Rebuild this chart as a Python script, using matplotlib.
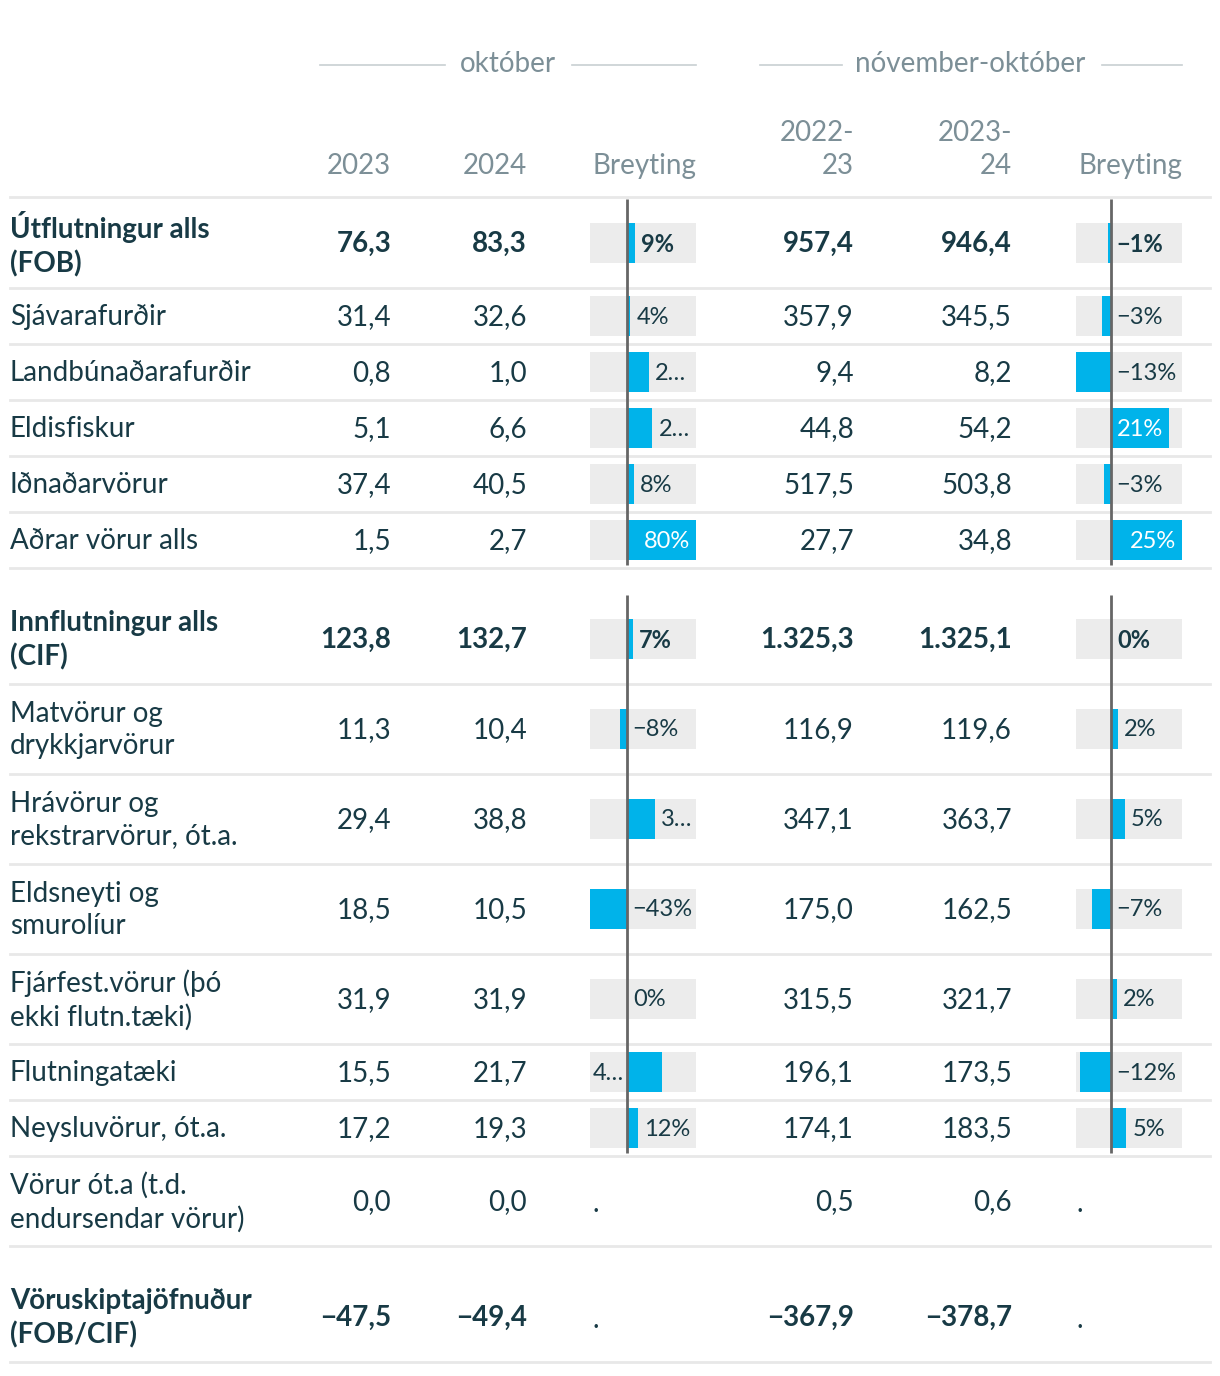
import matplotlib
matplotlib.use("Agg")
import matplotlib.pyplot as plt
import matplotlib.transforms as mtrans

plt.rcParams['font.family'] = ['Lato', 'DejaVu Sans']

# ---- data ----
rows = ["Útflutningur alls\n(FOB)", "Sjávarafurðir", "Landbúnaðarafurðir", "Eldisfiskur",
        "Iðnaðarvörur", "Aðrar vörur alls",
        "Innflutningur alls\n(CIF)", "Matvörur og\ndrykkjarvörur", "Hrávörur og\nrekstrarvörur, ót.a.",
        "Eldsneyti og\nsmurolíur", "Fjárfest.vörur (þó\nekki flutn.tæki)", "Flutningatæki",
        "Neysluvörur, ót.a.", "Vörur ót.a (t.d.\nendursendar vörur)",
        "Vöruskiptajöfnuður\n(FOB/CIF)"]
bold = [True, False, False, False, False, False, True, False, False, False, False, False, False, False, True]
okt23 = [76.3, 31.4, 0.8, 5.1, 37.4, 1.5, 123.8, 11.3, 29.4, 18.5, 31.9, 15.5, 17.2, 0.0, -47.5]
okt24 = [83.3, 32.6, 1.0, 6.6, 40.5, 2.7, 132.7, 10.4, 38.8, 10.5, 31.9, 21.7, 19.3, 0.0, -49.4]
okt_chg = [9.2, 3.8, 25.0, 29.4, 8.3, 80.0, 7.2, -8.0, 32.0, -43.2, 0.0, 40.0, 12.2, None, None]
okt_lbl = ["9%", "4%", "2…", "2…", "8%", "80%", "7%", "−8%", "3…", "−43%", "0%", "4…", "12%", None, None]
no22 = [957.4, 357.9, 9.4, 44.8, 517.5, 27.7, 1325.3, 116.9, 347.1, 175.0, 315.5, 196.1, 174.1, 0.5, -367.9]
no23 = [946.4, 345.5, 8.2, 54.2, 503.8, 34.8, 1325.1, 119.6, 363.7, 162.5, 321.7, 173.5, 183.5, 0.6, -378.7]
no_chg = [-1.1, -3.5, -12.8, 21.0, -2.6, 25.6, 0.0, 2.3, 4.8, -7.1, 2.0, -11.5, 5.4, None, None]
no_lbl = ["−1%", "−3%", "−13%", "21%", "−3%", "25%", "0%", "2%", "5%", "−7%", "2%", "−12%", "5%", None, None]
groups = [[0, 1, 2, 3, 4, 5], [6, 7, 8, 9, 10, 11, 12, 13], [14]]

DARK = "#183a45"
GREY = "#7c8f97"
RULE = "#e8e8e8"
BLUE = "#00b3ea"
CELL = "#ececec"


def fmt(v):
    s = "{:,.1f}".format(abs(v)).replace(",", "X").replace(".", ",").replace("X", ".")
    return ("−" if v < 0 else "") + s


fig = plt.figure(figsize=(12.2, 13.76), dpi=100)
ax = fig.add_axes([0, 0, 1, 1])
ax.set_xlim(0, 1220)
ax.set_ylim(1376, 0)
ax.axis('off')

FS = 20
# header
ax.text(508, 64, "október", ha='center', va='center', color=GREY, fontsize=FS)
ax.plot([320, 445], [65, 65], color="#c8cfd2", lw=1.2)
ax.plot([572, 696], [65, 65], color="#c8cfd2", lw=1.2)
ax.text(970, 64, "nóvember-október", ha='center', va='center', color=GREY, fontsize=FS)
ax.plot([760, 842], [65, 65], color="#c8cfd2", lw=1.2)
ax.plot([1102, 1182], [65, 65], color="#c8cfd2", lw=1.2)
for x, t in [(391, "2023"), (527, "2024"), (696, "Breyting"), (854, "2022-\n23"),
             (1012, "2023-\n24"), (1182, "Breyting")]:
    ax.text(x, 179, t, ha='right', va='bottom', color=GREY, fontsize=FS, linespacing=1.32)
ax.plot([10, 1210], [197, 197], color=RULE, lw=2)

# row geometry
heights = [90 if "\n" in r else 56 for r in rows]
tops = []
y = 198
for gi, g in enumerate(groups):
    if gi > 0:
        y += 26
    for i in g:
        tops.append(y)
        y += heights[i]
centers = [t + h / 2 for t, h in zip(tops, heights)]

for i, r in enumerate(rows):
    w = 'bold' if bold[i] else 'normal'
    c = centers[i] + 1
    ax.text(10, c, r, ha='left', va='center', color=DARK, fontsize=FS, fontweight=w, linespacing=1.32)
    for x, v in [(391, okt23[i]), (527, okt24[i]), (854, no22[i]), (1012, no23[i])]:
        ax.text(x, c, fmt(v), ha='right', va='center', color=DARK, fontsize=FS, fontweight=w)
    ax.plot([10, 1210], [tops[i] + heights[i], tops[i] + heights[i]], color=RULE, lw=2)
    if okt_chg[i] is None:
        ax.text(592, c + 2, ".", ha='left', va='center', color=DARK, fontsize=FS)
        ax.text(1077, c + 2, ".", ha='left', va='center', color=DARK, fontsize=FS)

fig.canvas.draw()
renderer = fig.canvas.get_renderer()


def bar_col(x0, x1, chg, lbl):
    vals = [v for v in chg if v is not None]
    lo, hi = min(vals), max(vals)
    bax = fig.add_axes([x0 / 1220, 0, (x1 - x0) / 1220, 1])
    bax.set_xlim(lo, hi)
    bax.set_ylim(1376, 0)
    bax.axis('off')
    for i, v in enumerate(chg):
        if v is None:
            continue
        w = 'bold' if bold[i] else 'normal'
        c = centers[i]
        bax.barh(c, hi - lo, left=lo, height=40, color=CELL, zorder=1)
        bax.barh(c, v, left=0, height=40, color=BLUE, zorder=2)
        t = bax.text(0, c + 1, lbl[i], ha='left', va='center', color=DARK, fontsize=17, fontweight=w, zorder=4)
        tw = t.get_window_extent(renderer).width
        to_px = bax.transData.transform
        zx = to_px((0, 0))[0]
        ex = to_px((v, 0))[0]
        rx = to_px((hi, 0))[0]
        lx = to_px((lo, 0))[0]
        if v < 0:
            t.set_transform(mtrans.offset_copy(bax.transData, fig=fig, x=5, units='dots'))
        elif rx - ex - 8 >= tw:
            t.set_x(v)
            t.set_transform(mtrans.offset_copy(bax.transData, fig=fig, x=6, units='dots'))
        elif ex - zx - 6 >= tw:
            t.set_x(v)
            t.set_ha('right')
            t.set_color('white')
            t.set_transform(mtrans.offset_copy(bax.transData, fig=fig, x=-6, units='dots'))
        elif rx - ex >= zx - lx:
            t.set_x(v)
            t.set_transform(mtrans.offset_copy(bax.transData, fig=fig, x=6, units='dots'))
        else:
            t.set_x(lo)
            t.set_transform(mtrans.offset_copy(bax.transData, fig=fig, x=3, units='dots'))
    for g in groups:
        g = [i for i in g if chg[i] is not None]
        if not g:
            continue
        bax.vlines(0, tops[g[0]] + 1, tops[g[-1]] + heights[g[-1]] - 3, color="#666666", lw=2, zorder=3)


bar_col(590, 696, okt_chg, okt_lbl)
bar_col(1076, 1182, no_chg, no_lbl)

fig.savefig("out.png", dpi=100, facecolor='white')
